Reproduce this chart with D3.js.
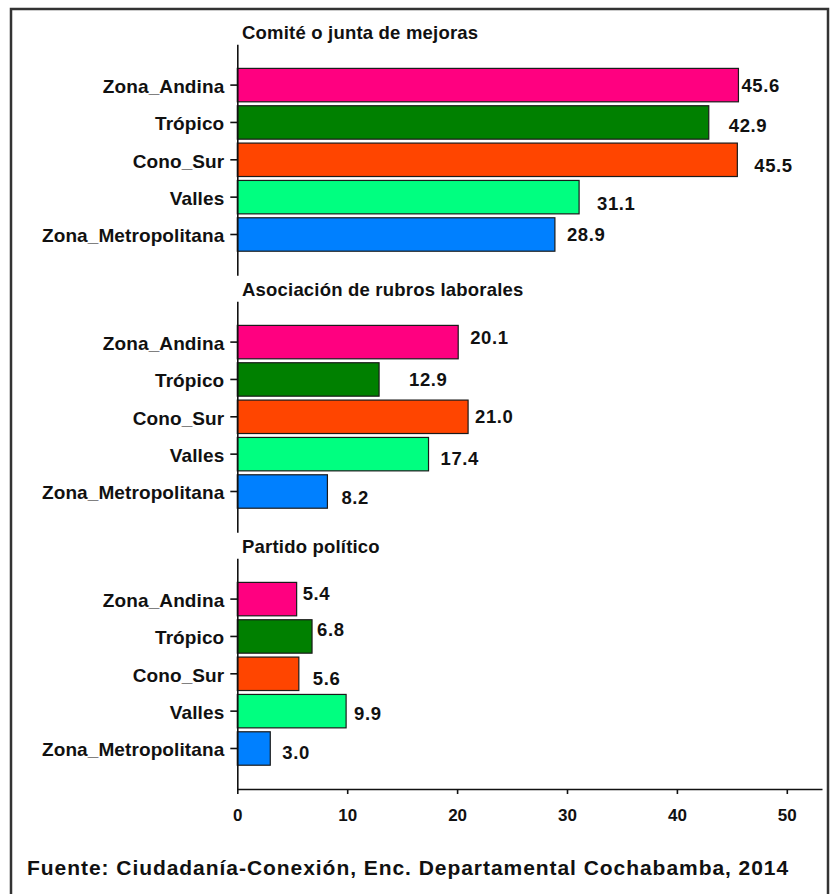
<!DOCTYPE html>
<html>
<head>
<meta charset="utf-8">
<script src="https://cdn.jsdelivr.net/npm/d3@7"></script>
<style>
  body { margin: 0; background: #fff; }
  svg text { font-family: "Liberation Sans", Arial, sans-serif; font-weight: bold; fill: #111; }
</style>
</head>
<body>
<script>
var regions = ["Zona_Andina", "Trópico", "Cono_Sur", "Valles", "Zona_Metropolitana"];
var panelTitles = ["Comité o junta de mejoras", "Asociación de rubros laborales", "Partido político"];
var comiteValues = [45.6, 42.9, 45.5, 31.1, 28.9];
var asociacionValues = [20.1, 12.9, 21.0, 17.4, 8.2];
var partidoValues = [5.4, 6.8, 5.6, 9.9, 3.0];
var xTicks = [0, 10, 20, 30, 40, 50];
var sourceNote = "Fuente: Ciudadanía-Conexión, Enc. Departamental Cochabamba, 2014";

var colors = ["#ff0080", "#008000", "#ff4500", "#00ff80", "#0080ff"];
var panels = [comiteValues, asociacionValues, partidoValues];

// label nudges (dx, dy) so the numbers sit where the original put them
var nudges = [
    [[3, 0], [20, 3], [17, 5.5], [18, 6], [12, 0]],
    [[12, -5], [30, 0], [7, 0], [12, 4], [14, 6]],
    [[6, -5.5], [5, -7.5], [14, 4.5], [8, 2], [12, 3.5]]
];

var W = 835, H = 894;
var x0 = 237.3, xEnd = 822;
var panelTop = 44.3, panelH = 231, panelStep = 257;

var svg = d3.select("body").append("svg")
    .attr("width", W)
    .attr("height", H);

svg.append("rect")
    .attr("x", 11).attr("y", 9)
    .attr("width", 817).attr("height", 900)
    .attr("fill", "none")
    .attr("stroke", "#333")
    .attr("stroke-width", 2.5);

var x = d3.scaleLinear()
    .domain([0, (xEnd - x0) / 10.99])
    .range([x0, xEnd]);

panels.forEach((vals, p) => {
    var top = panelTop + p * panelStep;
    var y = d3.scaleBand()
        .domain(regions)
        .range([top, top + panelH])
        .paddingInner(0.105)
        .paddingOuter(0.645);

    var g = svg.append("g");

    g.append("text")
        .attr("x", 242)
        .attr("y", top - 5)
        .attr("font-size", "18.5px")
        .attr("letter-spacing", "0.2px")
        .text(panelTitles[p]);

    g.selectAll("rect.bar")
        .data(vals)
        .enter()
        .append("rect")
        .attr("class", "bar")
        .attr("x", x(0))
        .attr("y", (d, i) => y(regions[i]))
        .attr("width", (d) => x(d) - x(0))
        .attr("height", y.bandwidth())
        .attr("fill", (d, i) => colors[i])
        .attr("stroke", "#1a1a1a")
        .attr("stroke-width", 1.2);

    g.selectAll("text.val")
        .data(vals)
        .enter()
        .append("text")
        .attr("class", "val")
        .attr("x", (d, i) => x(d) + nudges[p][i][0])
        .attr("y", (d, i) => y(regions[i]) + y.bandwidth() / 2 + nudges[p][i][1])
        .attr("dy", "0.36em")
        .attr("font-size", "18.5px")
        .attr("letter-spacing", "0.6px")
        .text((d) => d.toFixed(1));

    var leftAxis = d3.axisLeft(y).tickSize(7).tickSizeOuter(0).tickPadding(6);
    var ax = g.append("g")
        .attr("transform", "translate(" + x0 + ",0)")
        .call(leftAxis);
    ax.select(".domain").attr("stroke", "#111").attr("stroke-width", 1.6);
    ax.selectAll(".tick line").attr("stroke", "#111").attr("stroke-width", 1.6);
    ax.selectAll("text")
        .attr("font-size", "19px")
        .attr("letter-spacing", "0.1px")
        .attr("font-family", null)
        .attr("fill", "#111")
        .attr("dy", "0.42em");
});

var bottomAxis = d3.axisBottom(x)
    .tickValues(xTicks)
    .tickSize(5)
    .tickSizeOuter(0)
    .tickPadding(15);
var xa = svg.append("g")
    .attr("transform", "translate(0," + (panelTop + 2 * panelStep + panelH - 0.3) + ")")
    .call(bottomAxis);
xa.select(".domain").attr("stroke", "#111").attr("stroke-width", 1.6);
xa.selectAll(".tick line").attr("stroke", "#111").attr("stroke-width", 1.6);
xa.selectAll("text")
    .attr("font-size", "17px")
    .attr("font-family", null)
    .attr("fill", "#111");

svg.append("text")
    .attr("x", 27)
    .attr("y", 875)
    .attr("font-size", "21px")
    .attr("letter-spacing", "0.95px")
    .text(sourceNote);
</script>
</body>
</html>
